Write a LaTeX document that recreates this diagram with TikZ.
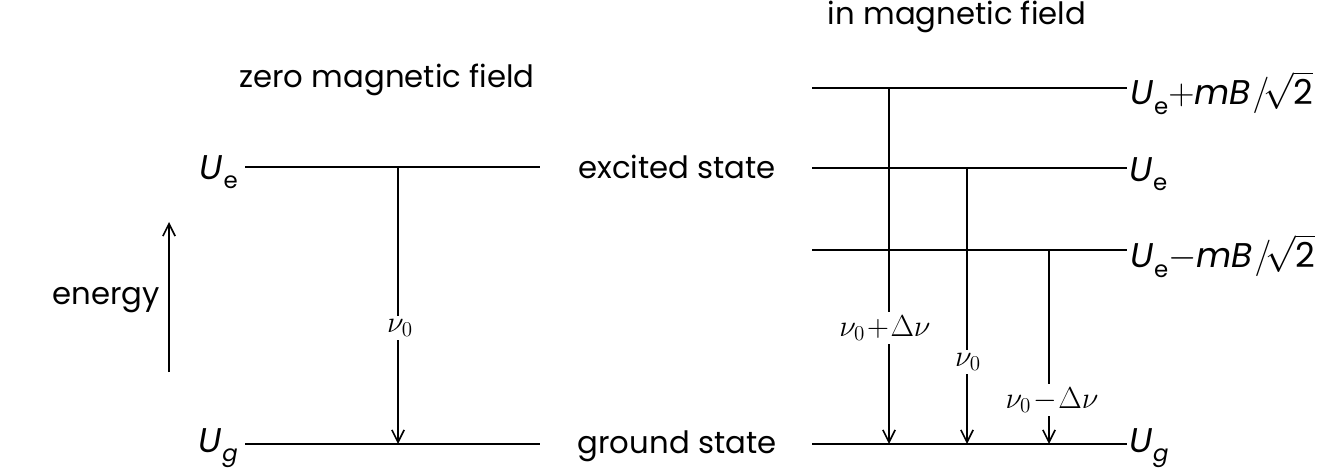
\documentclass[tikz,border=0pt]{standalone}
\usepackage{fontspec}
\setmainfont{Poppins}
\usetikzlibrary{arrows.meta}
\newcommand{\myU}[1]{\textit{U}\kern0.5pt\raisebox{-0.28em}{\fontsize{13}{14}\selectfont #1}}
\begin{document}
\begin{tikzpicture}[x=0.02cm,y=-0.02cm,
  level/.style={line width=1.7pt},
  trans/.style={line width=0.9pt,-{Straight Barb[length=7pt,width=7pt,line width=0.9pt]}},
  txt/.style={font=\fontsize{17.5}{20}\selectfont,inner sep=1pt},
  mlab/.style={font=\fontsize{19.5}{22}\selectfont,inner sep=1pt},
  lab/.style={font=\fontsize{18}{20}\selectfont,fill=white,inner sep=2pt}]
\useasboundingbox (0,0) rectangle (1335,476);
% left levels
\coordinate (LeA) at (245,167); \coordinate (LeB) at (540,167);
\coordinate (LgA) at (245,444); \coordinate (LgB) at (540,444);
\draw[level] (LeA) -- (LeB);
\draw[level] (LgA) -- (LgB);
\node[txt] (zero) at (387,80) {zero magnetic field};
\node[mlab,anchor=east] (Ule) at (240,172) {\myU{e}};
\node[mlab,anchor=east] (Ulg) at (240,448) {\myU{\textit{g}}};
\coordinate (v0t) at (398,167); \coordinate (v0b) at (398,444);
\draw[trans] (v0t) -- (v0b);
\node[lab] (v0l) at (400,328) {$\nu_0$};
% energy arrow
\coordinate (eb) at (169,372); \coordinate (et) at (169,222);
\draw[line width=1.3pt,-{Straight Barb[length=7pt,width=7pt,line width=0.9pt]}] (eb) -- (et);
\node[txt,anchor=east] (energy) at (162,300) {energy};
% middle labels
\node[txt] (exc) at (677,167) {excited state};
\node[txt] (gnd) at (677,446) {ground state};
% right levels
\node[txt] (inm) at (957,17) {in magnetic field};
\coordinate (R1a) at (812,88);  \coordinate (R1b) at (1127,88);
\coordinate (R2a) at (812,168); \coordinate (R2b) at (1127,168);
\coordinate (R3a) at (812,250); \coordinate (R3b) at (1127,250);
\coordinate (R4a) at (812,444); \coordinate (R4b) at (1127,444);
\draw[level] (R1a) -- (R1b);
\draw[level] (R2a) -- (R2b);
\draw[level] (R3a) -- (R3b);
\draw[level] (R4a) -- (R4b);
\node[mlab,anchor=west] (L1) at (1128,93) {\myU{e}$+$\textit{mB}\kern1pt$/\!\sqrt{\mbox{2}}$};
\node[mlab,anchor=west] (L2) at (1127,174) {\myU{e}};
\node[mlab,anchor=west] (L3) at (1128,256) {\myU{e}$-$\textit{mB}\kern1pt$/\!\sqrt{\mbox{2}}$};
\node[mlab,anchor=west] (L4) at (1127,448) {\myU{\textit{g}}};
% transitions
\coordinate (A1t) at (889,88);  \coordinate (A1b) at (889,444);
\coordinate (A2t) at (967,168); \coordinate (A2b) at (967,444);
\coordinate (A3t) at (1049,250); \coordinate (A3b) at (1049,444);
\draw[trans] (A1t) -- (A1b);
\draw[trans] (A2t) -- (A2b);
\draw[trans] (A3t) -- (A3b);
\node[lab] (l1) at (885,328) {$\nu_0\!+\!\Delta\nu$};
\node[lab] (l2) at (968,362) {$\nu_0$};
\node[lab] (l3) at (1052,400) {$\nu_0\!-\!\Delta\nu$};
\end{tikzpicture}
\end{document}
